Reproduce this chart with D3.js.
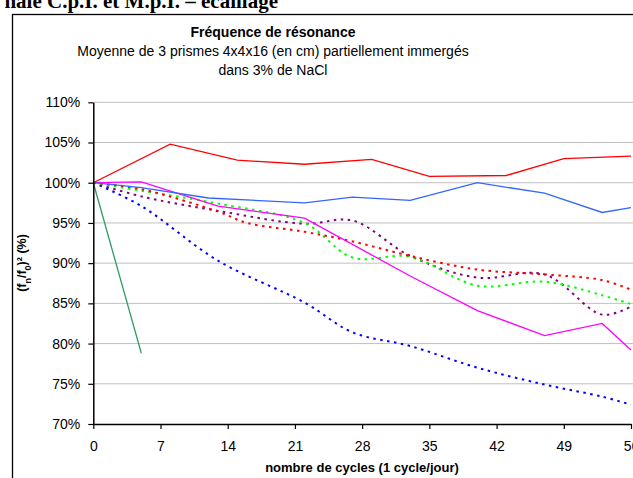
<!DOCTYPE html>
<html>
<head>
<meta charset="utf-8">
<script src="https://cdn.jsdelivr.net/npm/d3@7/dist/d3.min.js"></script>
<style>
  html, body { margin: 0; padding: 0; background: #fff; }
  svg { display: block; }
</style>
</head>
<body>
<svg id="chart" width="633" height="478"></svg>
<script>
// ---- data ----
const headerText = "nale C.p.I. et M.p.I. – écaillage";
const titleText = "Fréquence de résonance";
const subtitleLines = ["Moyenne de 3 prismes 4x4x16 (en cm) partiellement immergés", "dans 3% de NaCl"];
const xLabel = "nombre de cycles (1 cycle/jour)";
const xTicks = [0, 7, 14, 21, 28, 35, 42, 49, 56];
const yTicks = [70, 75, 80, 85, 90, 95, 100, 105, 110];

const redSolidDays = [0, 8, 15, 22, 29, 35, 43, 49, 56];
const redSolid     = [100, 104.8, 102.8, 102.3, 102.9, 100.8, 100.9, 103.0, 103.3];

const blueSolidDays = [0, 5, 12, 22, 27, 33, 40, 47, 53, 56];
const blueSolid     = [100, 99.4, 98.1, 97.5, 98.2, 97.8, 100.0, 98.7, 96.3, 96.9];

const pinkSolidDays = [0, 5, 13, 22, 33, 40, 47, 53, 56];
const pinkSolid     = [100, 100.1, 97.1, 95.6, 88.4, 84.1, 81.0, 82.5, 79.2];

const greenSolidDays = [0, 5];
const greenSolid     = [100, 78.8];

const dotDays = [0, 5, 13, 22, 27, 33, 40, 47, 53, 56];
const blueDotted   = [100, 97.1, 90.3, 85.1, 81.4, 79.7, 77.0, 74.9, 73.4, 72.4];
const purpleDotted = [100, 98.3, 96.5, 94.9, 95.3, 90.9, 88.2, 88.6, 83.6, 84.6];
const greenDotted  = [100, 99.0, 97.4, 95.0, 90.7, 90.8, 87.2, 87.7, 86.0, 84.9];

const redDotDays = [0, 5, 13, 16, 22, 27, 33, 40, 47, 53, 56];
const redDotted  = [100, 99.2, 96.4, 95.0, 93.9, 92.7, 90.9, 89.2, 88.6, 87.9, 86.7];

// ---- layout ----
const svg = d3.select("#chart");
const plot = { left: 93.3, right: 631, top: 102.3, bottom: 424 };
const x = d3.scaleLinear().domain([0, 56]).range([plot.left, plot.right]);
const y = d3.scaleLinear().domain([70, 110]).range([plot.bottom, plot.top]);
const FONT = "'Liberation Sans', Arial, sans-serif";

svg.append("rect").attr("width", 633).attr("height", 478).attr("fill", "#fff");

// header (clipped document text)
svg.append("text")
  .attr("x", 278).attr("y", 7.5)
  .attr("text-anchor", "end")
  .attr("font-family", "'Liberation Serif', 'Times New Roman', serif")
  .attr("font-weight", "bold")
  .attr("font-size", 21)
  .text(headerText);

// chart frame
svg.append("rect")
  .attr("x", 12.5).attr("y", 14.5)
  .attr("width", 700).attr("height", 600)
  .attr("fill", "none").attr("stroke", "#000").attr("stroke-width", 1.3);

// titles
svg.append("text")
  .attr("x", 273).attr("y", 37)
  .attr("text-anchor", "middle")
  .attr("font-family", FONT).attr("font-weight", "bold").attr("font-size", 14)
  .text(titleText);
subtitleLines.forEach((t, i) => {
  svg.append("text")
    .attr("x", 273).attr("y", 56 + i * 19)
    .attr("text-anchor", "middle")
    .attr("font-family", FONT).attr("font-size", 14)
    .text(t);
});

// gridlines
svg.append("g")
  .selectAll("line")
  .data(yTicks.filter(d => d > 70))
  .join("line")
  .attr("x1", plot.left).attr("x2", 633)
  .attr("y1", d => y(d)).attr("y2", d => y(d))
  .attr("stroke", "#c0c0c0").attr("stroke-width", 1);

// series
const series = [
  { days: dotDays, vals: blueDotted, color: "#0000FF", dotted: true },
  { days: dotDays, vals: purpleDotted, color: "#800080", dotted: true },
  { days: dotDays, vals: greenDotted, color: "#00FF00", dotted: true },
  { days: redDotDays, vals: redDotted, color: "#FF0000", dotted: true },
  { days: greenSolidDays, vals: greenSolid, color: "#339966", dotted: false },
  { days: pinkSolidDays, vals: pinkSolid, color: "#FF00FF", dotted: false },
  { days: blueSolidDays, vals: blueSolid, color: "#3366FF", dotted: false },
  { days: redSolidDays, vals: redSolid, color: "#FF0000", dotted: false }
];

const lineStraight = d3.line().x(d => x(d[0])).y(d => y(d[1]));
const lineSmooth = d3.line().x(d => x(d[0])).y(d => y(d[1])).curve(d3.curveCatmullRom.alpha(0.5));

const gLines = svg.append("g");
series.forEach(s => {
  const pts = s.days.map((d, i) => [d, s.vals[i]]);
  gLines.append("path")
    .attr("d", s.dotted ? lineSmooth(pts) : lineStraight(pts))
    .attr("fill", "none")
    .attr("stroke", s.color)
    .attr("stroke-width", s.dotted ? 2 : 1.3)
    .attr("stroke-dasharray", s.dotted ? "2.5,4.5" : null);
});

// axes
const xAxis = svg.append("g")
  .attr("transform", `translate(0,${plot.bottom})`)
  .call(d3.axisBottom(x).tickValues(xTicks).tickSize(5).tickSizeOuter(0).tickPadding(12));
xAxis.select(".domain").attr("stroke", "#000").attr("stroke-width", 1.5);
xAxis.selectAll(".tick line").attr("stroke", "#000").attr("stroke-width", 1.2);
xAxis.selectAll("text").attr("font-family", FONT).attr("font-size", 14).attr("fill", "#000");

const yAxis = svg.append("g")
  .attr("transform", `translate(${plot.left},0)`)
  .call(d3.axisLeft(y).tickValues(yTicks).tickSize(5).tickSizeOuter(0).tickPadding(8).tickFormat(d => d + "%"));
yAxis.select(".domain").attr("stroke", "#000").attr("stroke-width", 1.5);
yAxis.selectAll(".tick line").attr("stroke", "#000").attr("stroke-width", 1.2);
yAxis.selectAll("text").attr("font-family", FONT).attr("font-size", 14).attr("fill", "#000");

// axis titles
svg.append("text")
  .attr("x", 362).attr("y", 472)
  .attr("text-anchor", "middle")
  .attr("font-family", FONT).attr("font-weight", "bold").attr("font-size", 13)
  .text(xLabel);

const yt = svg.append("text")
  .attr("transform", "translate(26,263) rotate(-90)")
  .attr("text-anchor", "middle")
  .attr("font-family", FONT).attr("font-weight", "bold").attr("font-size", 12.5);
yt.append("tspan").text("(f");
yt.append("tspan").attr("baseline-shift", "sub").attr("font-size", 9).text("n");
yt.append("tspan").text("/f");
yt.append("tspan").attr("baseline-shift", "sub").attr("font-size", 9).text("0");
yt.append("tspan").text(")² (%)");
</script>
</body>
</html>
